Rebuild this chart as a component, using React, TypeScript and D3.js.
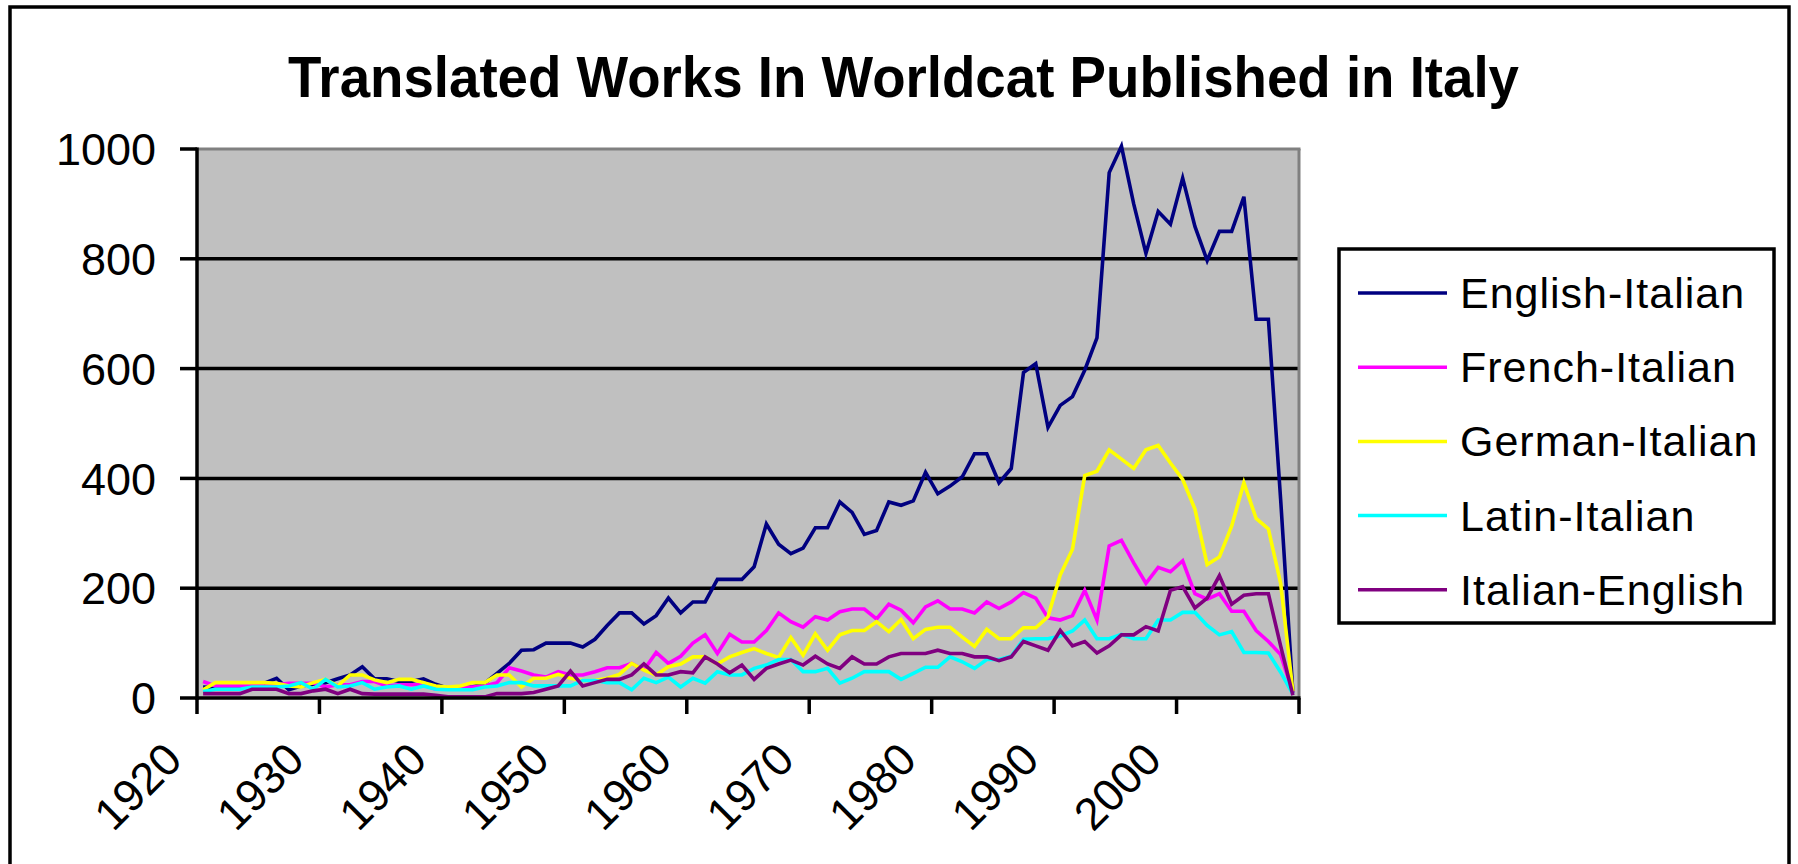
import React from 'react';
import * as d3 from 'd3';

// categories: one per year, 1920..2009
const years = d3.range(1920, 2010);
const yTicks = [0, 200, 400, 600, 800, 1000];
const xTickYears = [1920, 1930, 1940, 1950, 1960, 1970, 1980, 1990, 2000, 2010];
const xLabelYears = [1920, 1930, 1940, 1950, 1960, 1970, 1980, 1990, 2000];

const englishItalian = [
  20, 19, 19, 19, 19, 27, 36, 15, 22, 25,
  28, 35, 42, 57, 35, 35, 30, 30, 35, 25,
  18, 20, 20, 27, 45, 63, 87, 88, 100, 100,
  100, 93, 107, 132, 155, 155, 135, 150, 182, 155,
  175, 175, 216, 216, 216, 239, 317, 280, 263, 273,
  310, 310, 357, 338, 298, 305, 357, 351, 359, 411,
  372, 386, 403, 445, 445, 392, 418, 593, 609, 493,
  533, 549, 597, 656, 957, 1005, 900, 810, 886, 863,
  947, 859, 797, 850, 850, 913, 690, 690, 362, 10
];
const frenchItalian = [
  30, 22, 22, 22, 22, 22, 24, 27, 27, 27,
  20, 24, 24, 30, 30, 22, 24, 24, 24, 16,
  18, 20, 20, 22, 28, 55, 49, 42, 38, 48,
  42, 42, 48, 55, 55, 63, 51, 83, 63, 76,
  100, 115, 81, 116, 102, 102, 123, 155, 139, 129,
  148, 142, 157, 162, 162, 144, 171, 160, 137, 166,
  177, 162, 162, 155, 175, 163, 175, 192, 182, 146,
  142, 150, 196, 142, 277, 287, 246, 209, 238, 230,
  250, 190, 180, 190, 158, 158, 123, 103, 79, 10
];
const germanItalian = [
  15, 28, 28, 28, 28, 28, 27, 22, 20, 28,
  34, 22, 42, 42, 33, 28, 34, 34, 28, 22,
  20, 22, 28, 28, 42, 42, 20, 36, 36, 43,
  36, 32, 32, 36, 43, 63, 51, 42, 57, 62,
  75, 75, 62, 75, 83, 90, 81, 74, 110, 78,
  117, 87, 115, 123, 123, 139, 121, 143, 108, 125,
  129, 129, 111, 94, 125, 108, 108, 128, 128, 148,
  224, 271, 405, 413, 452, 435, 418, 452, 460, 428,
  398, 344, 243, 257, 313, 392, 327, 308, 209, 12
];
const latinItalian = [
  12, 16, 16, 16, 20, 20, 20, 22, 28, 16,
  34, 20, 22, 28, 16, 20, 22, 16, 22, 16,
  15, 15, 15, 20, 22, 28, 28, 22, 22, 22,
  22, 32, 32, 28, 28, 15, 36, 28, 38, 20,
  36, 27, 48, 42, 42, 54, 60, 70, 70, 48,
  48, 54, 27, 36, 48, 48, 48, 34, 45, 56,
  56, 75, 66, 54, 70, 70, 76, 107, 108, 108,
  113, 122, 142, 108, 108, 116, 108, 108, 142, 142,
  156, 156, 132, 115, 121, 83, 83, 82, 47, 7
];
const italianEnglish = [
  8, 8, 8, 8, 16, 16, 16, 8, 8, 13,
  16, 8, 16, 8, 7, 7, 7, 7, 7, 5,
  2, 2, 2, 2, 8, 8, 8, 10, 16, 22,
  49, 22, 28, 34, 34, 42, 62, 42, 42, 48,
  46, 75, 62, 46, 60, 34, 54, 62, 69, 60,
  76, 62, 54, 75, 62, 62, 75, 81, 81, 81,
  87, 81, 81, 75, 75, 68, 75, 103, 95, 87,
  123, 95, 103, 82, 95, 115, 115, 130, 122, 196,
  203, 164, 182, 223, 171, 187, 190, 190, 95, 5
];

const seriesNames = ['English-Italian', 'French-Italian', 'German-Italian', 'Latin-Italian', 'Italian-English'];
const seriesColors = ['#000080', '#FF00FF', '#FFFF00', '#00FFFF', '#800080'];
const seriesValues = [englishItalian, frenchItalian, germanItalian, latinItalian, italianEnglish];

const W = 1798;
const H = 864;
const plot = { left: 197, right: 1299, top: 149, bottom: 698 };
const font = 'Arial, "Liberation Sans", sans-serif';

export default function App() {
  const x = d3.scaleLinear().domain([1920, 2010]).range([plot.left, plot.right]);
  const y = d3.scaleLinear().domain([0, 1000]).range([plot.bottom, plot.top]);

  const line = d3
    .line<number>()
    .x((d, i) => x(years[i] + 0.5))
    .y(d => y(d));

  const legend = { x: 1339, y: 249, w: 435, h: 374 };

  return (
    <svg
      width={W}
      height={H}
      style={{ position: 'absolute', left: 0, top: 0, background: '#fff' }}
    >
      <style>{'body{margin:0;overflow:hidden}'}</style>
      <rect x={0} y={0} width={W} height={H} fill="#fff" />
      <rect x={10} y={7} width={1779} height={900} fill="none" stroke="#000" strokeWidth={3.5} />

      <text
        x={903.5}
        y={97}
        textAnchor="middle"
        fontFamily={font}
        fontWeight="bold"
        fontSize={57}
        textLength={1231}
        lengthAdjust="spacingAndGlyphs"
      >
        Translated Works In Worldcat Published in Italy
      </text>

      <rect
        x={plot.left}
        y={plot.top}
        width={plot.right - plot.left}
        height={plot.bottom - plot.top}
        fill="#C0C0C0"
      />
      {yTicks.filter(t => t > 0 && t < 1000).map(t => (
        <line key={t} x1={plot.left} x2={plot.right} y1={y(t)} y2={y(t)} stroke="#000" strokeWidth={3.5} />
      ))}
      <line x1={plot.left} x2={plot.right + 1.5} y1={plot.top} y2={plot.top} stroke="#808080" strokeWidth={3} />
      <line x1={plot.right} x2={plot.right} y1={plot.top} y2={plot.bottom} stroke="#808080" strokeWidth={3} />

      {seriesValues.map((vals, k) => (
        <path key={seriesNames[k]} d={line(vals) || ''} fill="none" stroke={seriesColors[k]} strokeWidth={3.6} />
      ))}

      {/* axes */}
      <line x1={plot.left} x2={plot.left} y1={plot.top - 1.5} y2={plot.bottom + 2} stroke="#000" strokeWidth={3.5} />
      <line x1={plot.left} x2={plot.right + 1.5} y1={plot.bottom} y2={plot.bottom} stroke="#000" strokeWidth={3.5} />
      {yTicks.map(t => (
        <g key={t}>
          <line x1={180} x2={plot.left} y1={y(t)} y2={y(t)} stroke="#000" strokeWidth={3.5} />
          <text x={156} y={y(t)} dy="0.36em" textAnchor="end" fontFamily={font} fontSize={45}>
            {t}
          </text>
        </g>
      ))}
      {xTickYears.map(yr => (
        <line key={yr} x1={x(yr)} x2={x(yr)} y1={plot.bottom} y2={714} stroke="#000" strokeWidth={3.5} />
      ))}
      {xLabelYears.map(yr => {
        const ax = x(yr + 0.5) - 19;
        const ay = 762;
        return (
          <text
            key={yr}
            x={ax}
            y={ay}
            textAnchor="end"
            fontFamily={font}
            fontSize={45}
            transform={`rotate(-45 ${ax} ${ay})`}
          >
            {yr}
          </text>
        );
      })}

      {/* legend */}
      <rect x={legend.x} y={legend.y} width={legend.w} height={legend.h} fill="#fff" stroke="#000" strokeWidth={3.5} />
      {seriesNames.map((name, k) => {
        const ly = 293 + k * 74.2;
        return (
          <g key={name}>
            <line x1={1358} x2={1447} y1={ly} y2={ly} stroke={seriesColors[k]} strokeWidth={3.5} />
            <text x={1460} y={ly + 15} fontFamily={font} fontSize={43} letterSpacing={1}>
              {name}
            </text>
          </g>
        );
      })}
    </svg>
  );
}
